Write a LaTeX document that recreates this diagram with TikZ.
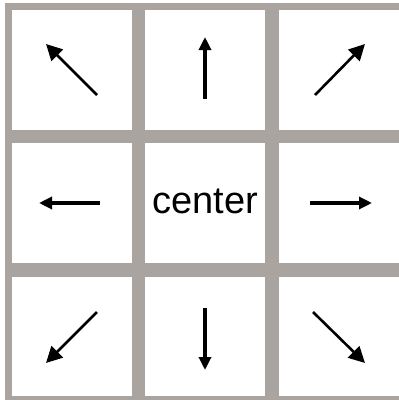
\documentclass[tikz,border=0pt]{standalone}
\usepackage{fontspec}
\setmainfont{Liberation Sans}
\usetikzlibrary{arrows.meta}
\definecolor{gridgray}{RGB}{170,164,161}
\tikzset{
  band/.style={fill=gridgray, draw=none},
  arr/.style={-{Triangle[width=12pt,length=13pt]}, line width=3.2pt, black},
  darr/.style={-{Triangle[width=16pt,length=16pt]}, line width=2.6pt, black}
}
\begin{document}
\begin{tikzpicture}[x=1pt,y=-1pt]
\useasboundingbox (0,0) rectangle (399,400);
\fill[white] (0,0) rectangle (399,400);
% vertical bands
\fill[band] (5,3) rectangle (12,400);
\fill[band] (132,3) rectangle (145,400);
\fill[band] (265,3) rectangle (279,400);
% horizontal bands
\fill[band] (5,3) rectangle (399,10);
\fill[band] (5,130) rectangle (399,143);
\fill[band] (5,263) rectangle (399,277);
\fill[band] (5,396) rectangle (399,400);
% arrow coordinates
\coordinate (nwS) at (97,95);  \coordinate (nwE) at (46,44);
\coordinate (nS) at (205,99);  \coordinate (nE) at (205,37);
\coordinate (neS) at (315,95); \coordinate (neE) at (365,44);
\coordinate (wS) at (100,203); \coordinate (wE) at (39,203);
\coordinate (eS) at (310,203); \coordinate (eE) at (372,203);
\coordinate (swS) at (97,312); \coordinate (swE) at (46,363);
\coordinate (sS) at (205,308); \coordinate (sE) at (205,370);
\coordinate (seS) at (313,312); \coordinate (seE) at (365,363);
\draw[darr] (nwS) -- (nwE);
\draw[arr] (nS) -- (nE);
\draw[darr] (neS) -- (neE);
\draw[arr] (wS) -- (wE);
\draw[arr] (eS) -- (eE);
\draw[darr] (swS) -- (swE);
\draw[arr] (sS) -- (sE);
\draw[darr] (seS) -- (seE);
\node[anchor=base, font=\fontsize{38}{42}\selectfont, inner sep=0pt] (center) at (205,213) {center};
\end{tikzpicture}
\end{document}
